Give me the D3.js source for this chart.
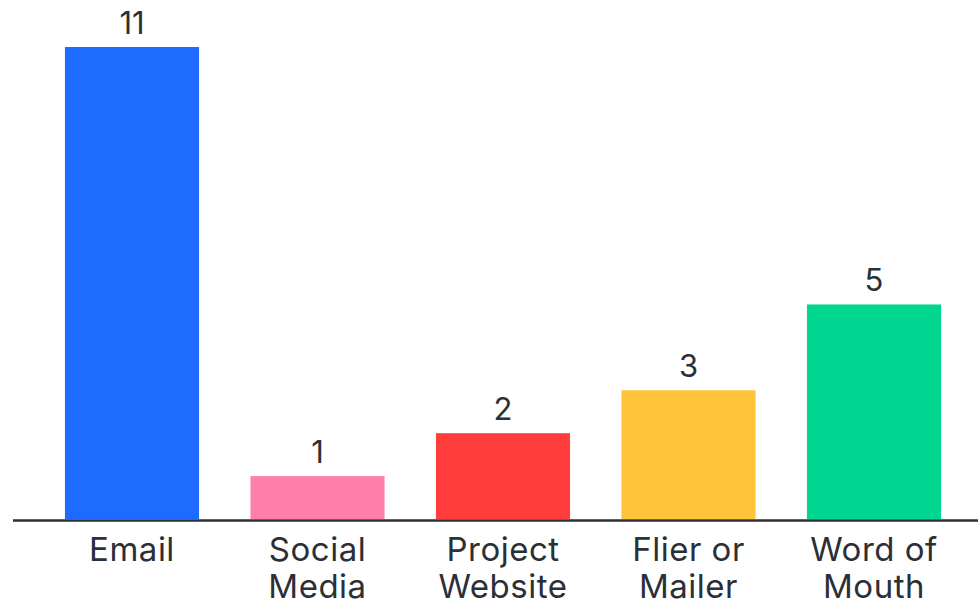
<!DOCTYPE html>
<html>
<head>
<meta charset="utf-8">
<script src="https://cdnjs.cloudflare.com/ajax/libs/d3/7.8.5/d3.min.js"></script>
<style>
    body { margin: 0; background: #fff; }
    text { font-family: Inter, "Noto Sans", sans-serif; fill: #2b2f36; }
</style>
</head>
<body>
<div id="chart"></div>
<script>
// Chart data
var categories = ["Email", "Social Media", "Project Website", "Flier or Mailer", "Word of Mouth"];
var labelLines = [["Email"], ["Social", "Media"], ["Project", "Website"], ["Flier or", "Mailer"], ["Word of", "Mouth"]];
var counts = [11, 1, 2, 3, 5];
var barColors = ["#1f6bff", "#ff7eaa", "#ff3d3d", "#ffc43a", "#00d68f"];

var width = 978;
var height = 604;
var baseline = 519;

var svg = d3.select("#chart")
    .append("svg")
    .attr("width", width)
    .attr("height", height);

var x = d3.scaleBand()
    .domain(categories)
    .range([13, 993])
    .paddingInner(0.277)
    .paddingOuter(0.28);

var y = d3.scaleLinear()
    .domain([0, 11])
    .range([baseline, 47]);

// Bars
svg.selectAll("rect.bar")
    .data(categories)
    .enter().append("rect")
    .attr("class", "bar")
    .attr("x", function(d) { return x(d); })
    .attr("y", function(d, i) { return y(counts[i]); })
    .attr("width", x.bandwidth())
    .attr("height", function(d, i) { return y(0) - y(counts[i]); })
    .style("fill", function(d, i) { return barColors[i]; });

// Value labels above bars
svg.selectAll("text.value")
    .data(categories)
    .enter().append("text")
    .attr("class", "value")
    .attr("x", function(d) { return x(d) + x.bandwidth() / 2; })
    .attr("y", function(d, i) { return y(counts[i]) - 13; })
    .attr("text-anchor", "middle")
    .style("font-size", "31px")
    .text(function(d, i) { return counts[i]; });

// Baseline axis line
svg.append("line")
    .attr("x1", 13)
    .attr("x2", width)
    .attr("y1", baseline + 1.5)
    .attr("y2", baseline + 1.5)
    .style("stroke", "#2b2f36")
    .style("stroke-width", 2.5);

// Category labels (one or two lines)
var labels = svg.selectAll("text.cat")
    .data(categories)
    .enter().append("text")
    .attr("class", "cat")
    .attr("text-anchor", "middle")
    .style("font-size", "33px")
    .style("letter-spacing", "0.5px");

labels.selectAll("tspan")
    .data(function(d, i) { return labelLines[i].map(function(t) { return { t: t, c: d }; }); })
    .enter().append("tspan")
    .attr("x", function(d) { return x(d.c) + x.bandwidth() / 2; })
    .attr("y", function(d, j) { return 561 + j * 37; })
    .text(function(d) { return d.t; });
</script>
</body>
</html>
